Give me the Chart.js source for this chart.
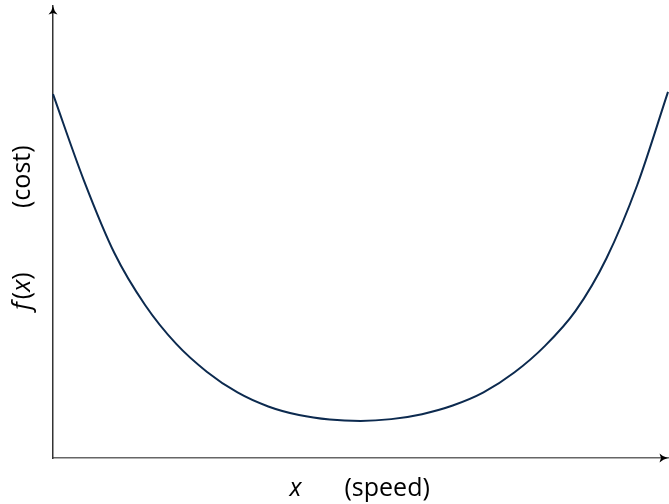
<!DOCTYPE html>
<html>
<head>
<meta charset="utf-8">
<script src="https://cdn.jsdelivr.net/npm/chart.js@4"></script>
<style>
  html, body { margin: 0; padding: 0; background: #fff; }
  #costChart { display: block; }
</style>
</head>
<body>
<canvas id="costChart" width="669" height="504"></canvas>
<script>
// values (x and y both on a 0..100 scale)
const speed = [0, 5, 10, 15, 20, 25, 30, 35, 40, 45, 50, 55, 60, 65, 70, 75, 80, 85, 90, 95, 100];
const cost = [80.5, 61.5, 45.3, 33.8, 25.3, 19.1, 14.5, 11.4, 9.5, 8.5, 8.2, 8.6, 9.7, 11.6, 14.5, 18.9, 24.8, 32.6, 44.2, 60.4, 81];

const xLabel = ['x', '(speed)'];
const yLabel = ['f(x)', '(cost)'];

const points = speed.map((s, i) => ({x: s, y: cost[i]}));

function arrowHead(ctx, x, y, dir) {
  ctx.save();
  ctx.translate(x, y);
  if (dir === 'right') ctx.rotate(Math.PI / 2);
  ctx.beginPath();
  ctx.moveTo(0, 0);
  ctx.quadraticCurveTo(1, 5, 4.5, 8.5);
  ctx.lineTo(0, 7);
  ctx.lineTo(-4.5, 8.5);
  ctx.quadraticCurveTo(-1, 5, 0, 0);
  ctx.closePath();
  ctx.fillStyle = '#000';
  ctx.fill();
  ctx.restore();
}

const axisDecor = {
  id: 'axisDecor',
  afterDraw(chart) {
    const ctx = chart.ctx;
    const a = chart.chartArea;
    ctx.save();
    arrowHead(ctx, a.left, a.top, 'up');
    arrowHead(ctx, a.right, a.bottom, 'right');

    const normal = '25px "Open Sans", sans-serif';
    const italic = 'italic 25px "Open Sans", sans-serif';
    ctx.fillStyle = '#000';
    ctx.textBaseline = 'alphabetic';
    ctx.textAlign = 'left';

    // x axis title
    const cx = (a.left + a.right) / 2;
    ctx.font = italic;
    ctx.fillText(xLabel[0], cx - 71, 496);
    ctx.font = normal;
    ctx.fillText(xLabel[1], cx - 16, 496);

    // y axis title (rotated)
    ctx.translate(30, (a.top + a.bottom) / 2);
    ctx.rotate(-Math.PI / 2);
    const parts = [[italic, 'f'], [normal, '('], [italic, 'x'], [normal, ')']];
    let sy = -78;
    parts.forEach(p => {
      ctx.font = p[0];
      ctx.fillText(p[1], sy, 0);
      sy += ctx.measureText(p[1]).width + (p[1] === 'f' ? 3 : 0);
    });
    ctx.font = normal;
    ctx.fillText(yLabel[1], 24, 0);
    ctx.restore();
  }
};

new Chart(document.getElementById('costChart'), {
  type: 'line',
  data: {
    datasets: [{
      data: points,
      borderColor: '#0c2a4f',
      borderWidth: 2,
      pointRadius: 0,
      fill: false,
      cubicInterpolationMode: 'monotone',
      clip: false
    }]
  },
  options: {
    responsive: false,
    animation: false,
    events: [],
    layout: {padding: {left: 53, right: 1, top: 6, bottom: 46}},
    plugins: {legend: {display: false}, tooltip: {enabled: false}},
    scales: {
      x: {
        type: 'linear',
        min: 0,
        max: 100,
        grid: {display: false, drawTicks: false},
        ticks: {display: false},
        border: {display: true, color: '#666', width: 1.5}
      },
      y: {
        min: 0,
        max: 100,
        grid: {display: false, drawTicks: false},
        ticks: {display: false},
        border: {display: true, color: '#333', width: 1.5}
      }
    }
  },
  plugins: [axisDecor]
});
</script>
</body>
</html>
